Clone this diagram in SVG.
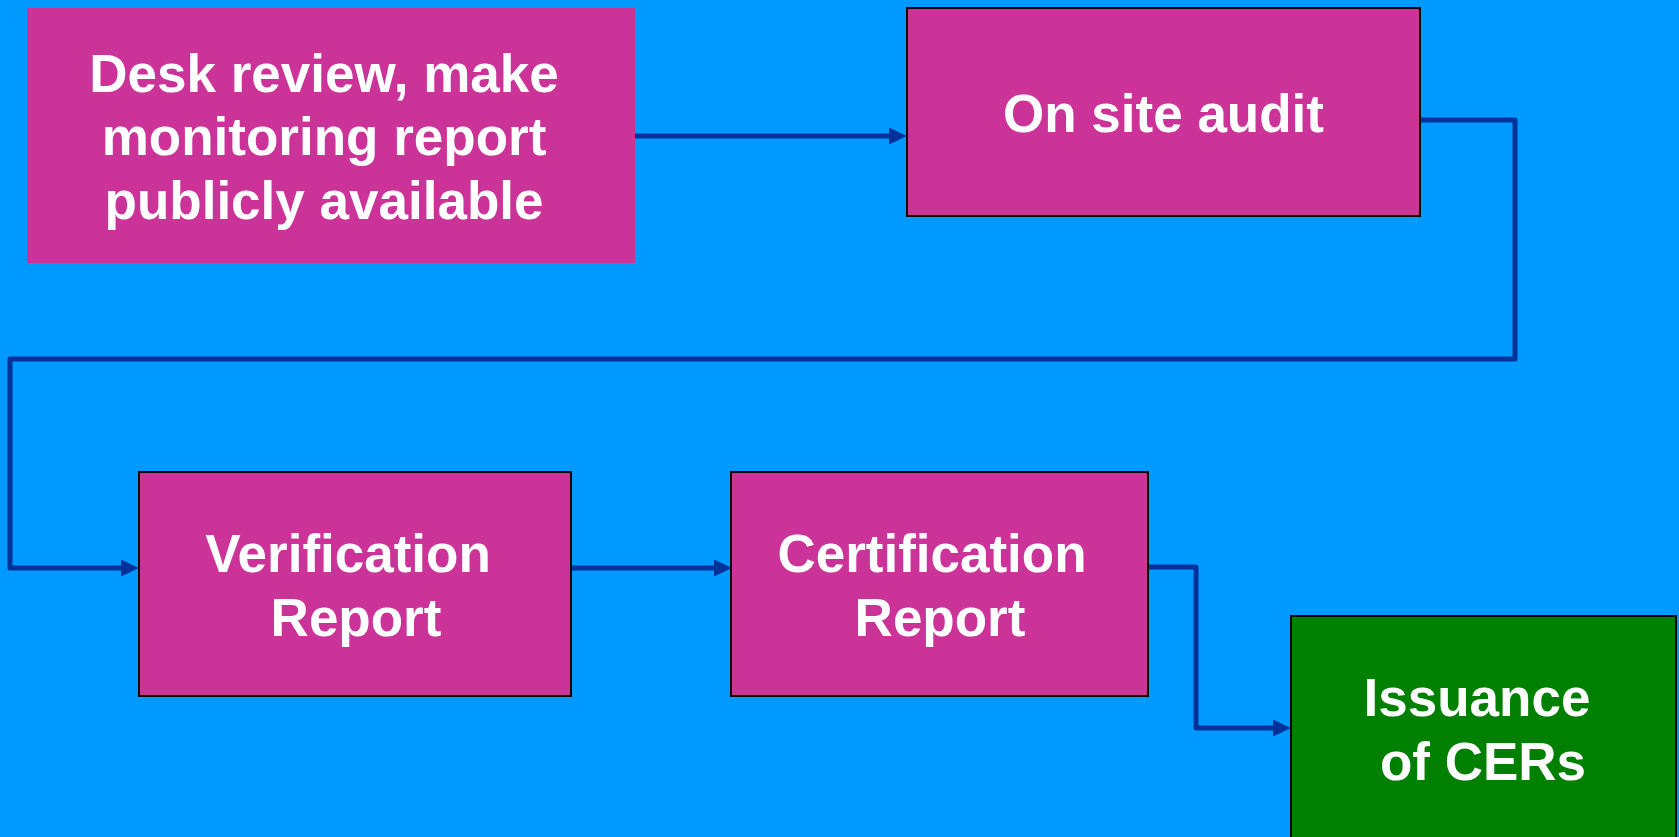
<svg xmlns="http://www.w3.org/2000/svg" width="1679" height="837" viewBox="0 0 1679 837">
<style>
.bg{fill:#0099FF}
.pink{fill:#CC3399}
.bord{stroke:#000;stroke-width:2}
.green{fill:#008000}
.lbl{font-family:"Liberation Sans",Arial,sans-serif;font-weight:bold;font-size:53px;fill:#fff;text-anchor:middle}
.conn{fill:none;stroke:#003399;stroke-width:5;stroke-linejoin:round}
</style>
<defs>
<marker id="arr" markerUnits="userSpaceOnUse" markerWidth="20" markerHeight="18" refX="8" refY="8.5" orient="auto">
<path d="M0,0 L18,8.5 L0,17 z" fill="#003399"/>
</marker>
</defs>
<rect class="bg" x="0" y="0" width="1679" height="837"/>
<g id="connectors">
<path class="conn" d="M635,136 H897" marker-end="url(#arr)"/>
<path class="conn" d="M1420,120 H1515 V359 H10 V568 H129" marker-end="url(#arr)"/>
<path class="conn" d="M571,568 H722" marker-end="url(#arr)"/>
<path class="conn" d="M1148,567 H1196 V728 H1281" marker-end="url(#arr)"/>
</g>
<g id="desk-review">
<rect class="pink" x="27" y="8" width="608" height="255"/>
<text class="lbl" x="324" y="92">Desk review, make</text>
<text class="lbl" x="324" y="155">monitoring report</text>
<text class="lbl" x="324" y="219">publicly available</text>
</g>
<g id="on-site-audit">
<rect class="pink bord" x="907" y="8" width="513" height="208"/>
<text class="lbl" x="1163.5" y="132">On site audit</text>
</g>
<g id="verification-report">
<rect class="pink bord" x="139" y="472" width="432" height="224"/>
<text class="lbl" x="348" y="572">Verification</text>
<text class="lbl" x="356" y="636">Report</text>
</g>
<g id="certification-report">
<rect class="pink bord" x="731" y="472" width="417" height="224"/>
<text class="lbl" x="932" y="572">Certification</text>
<text class="lbl" x="940" y="636">Report</text>
</g>
<g id="issuance">
<rect class="green bord" x="1291" y="616" width="385" height="240"/>
<text class="lbl" x="1477" y="716">Issuance</text>
<text class="lbl" x="1483" y="780">of CERs</text>
</g>
</svg>
